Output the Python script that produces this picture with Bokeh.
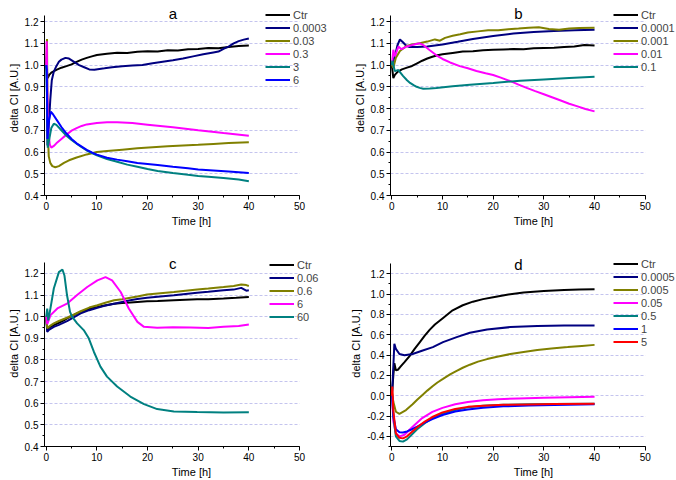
from bokeh.plotting import figure
from bokeh.layouts import column, row
from bokeh.models import (Range1d, SingleIntervalTicker, NumeralTickFormatter, Legend, LegendItem,
                          BoxAnnotation, Label)
from bokeh.embed import file_html
from bokeh.resources import INLINE

FONT = "Liberation Sans"
BLACK = "#000000"
NAVY = "#000080"
OLIVE = "#808000"
MAGENTA = "#FF00FF"
TEAL = "#008080"
BLUE = "#0000FF"
RED = "#FF0000"

# ---------------- panel a ----------------
a_labels = ["Ctr", "0.0003", "0.03", "0.3", "3", "6"]
a_ctr_t = [0, 0.3, 0.6, 1, 2, 3, 4, 5, 6, 7, 8, 9, 10, 12, 14, 16, 18, 20, 22, 24, 26, 28, 30, 32, 34, 36, 38, 40]
a_ctr_v = [1.0, 0.94, 0.955, 0.965, 0.978, 0.988, 0.995, 1.003, 1.015, 1.025, 1.033, 1.04, 1.046, 1.052,
           1.057, 1.055, 1.061, 1.064, 1.062, 1.068, 1.067, 1.073, 1.074, 1.078, 1.077, 1.083, 1.088, 1.09]
a_c1_t = [0, 0.1, 0.25, 0.5, 0.8, 1.1, 1.5, 2, 2.5, 3, 3.8, 4.5, 5.5, 6.5, 7.5, 8.5, 9.5, 10.5, 11.5, 13, 15,
          17, 19, 21, 23, 25, 27, 29, 31, 33, 34, 35, 36, 37, 38, 39, 40]
a_c1_v = [1.0, 1.04, 0.63, 0.72, 0.84, 0.93, 0.97, 0.995, 1.015, 1.025, 1.033, 1.03, 1.015, 1.0, 0.99, 0.98,
          0.978, 0.982, 0.985, 0.99, 0.995, 0.998, 1.0, 1.008, 1.015, 1.022, 1.03, 1.04, 1.05, 1.058, 1.062,
          1.075, 1.085, 1.1, 1.11, 1.117, 1.122]
a_c2_t = [0, 0.15, 0.3, 0.5, 0.8, 1.2, 1.8, 2.5, 3.5, 4.5, 6, 8, 10, 12, 15, 18, 21, 24, 27, 30, 33, 36, 40]
a_c2_v = [1.0, 1.12, 0.7, 0.58, 0.55, 0.535, 0.53, 0.535, 0.55, 0.562, 0.575, 0.589, 0.6, 0.605, 0.611,
          0.617, 0.622, 0.626, 0.63, 0.633, 0.637, 0.641, 0.645]
a_c3_t = [0, 0.1, 0.2, 0.4, 0.7, 1.0, 1.5, 2, 3, 4, 5, 6, 7, 8, 10, 12, 14, 17, 20, 25, 30, 35, 40]
a_c3_v = [1.0, 1.11, 0.9, 0.7, 0.635, 0.62, 0.628, 0.64, 0.66, 0.68, 0.698, 0.71, 0.72, 0.727, 0.734,
          0.737, 0.737, 0.733, 0.726, 0.714, 0.70, 0.687, 0.675]
a_c4_t = [0, 0.15, 0.3, 0.6, 1.0, 1.5, 2, 3, 4, 5, 6, 7, 8, 9, 10, 12, 14, 16, 18, 20, 22, 25, 28, 30, 32,
          35, 38, 40]
a_c4_v = [1.0, 0.85, 0.62, 0.66, 0.71, 0.73, 0.725, 0.7, 0.675, 0.655, 0.638, 0.622, 0.607, 0.595, 0.585,
          0.568, 0.555, 0.542, 0.532, 0.522, 0.513, 0.503, 0.495, 0.49, 0.486, 0.48, 0.474, 0.466]
a_c5_t = [0, 0.1, 0.25, 0.5, 0.9, 1.3, 2, 3, 4, 5, 6, 7, 8, 9, 10, 12, 14, 16, 18, 20, 22, 25, 28, 30, 33,
          36, 40]
a_c5_v = [1.0, 0.98, 0.66, 0.74, 0.785, 0.775, 0.75, 0.715, 0.685, 0.66, 0.64, 0.625, 0.61, 0.598, 0.588,
          0.574, 0.565, 0.558, 0.55, 0.545, 0.54, 0.532, 0.525, 0.52, 0.515, 0.51, 0.503]

# ---------------- panel b ----------------
b_labels = ["Ctr", "0.0001", "0.001", "0.01", "0.1"]
b_ctr_t = [0, 0.3, 0.6, 1.2, 2, 3, 4, 5, 6, 7, 8, 9, 10, 12, 14, 16, 18, 20, 22, 24, 26, 28, 30, 32, 34, 36, 38, 40]
b_ctr_v = [1.0, 0.94, 0.955, 0.97, 0.98, 0.988, 0.996, 1.008, 1.02, 1.03, 1.038, 1.045, 1.05, 1.056, 1.062,
           1.064, 1.068, 1.07, 1.072, 1.074, 1.073, 1.077, 1.079, 1.08, 1.083, 1.085, 1.092, 1.09]
b_c1_t = [0, 0.3, 0.7, 1.1, 1.6, 2.2, 2.8, 3.5, 5, 7, 10, 13, 16, 20, 24, 28, 32, 36, 40]
b_c1_v = [1.0, 1.02, 1.05, 1.09, 1.118, 1.105, 1.09, 1.083, 1.083, 1.085, 1.095, 1.107, 1.12, 1.134, 1.145,
          1.152, 1.157, 1.16, 1.162]
b_c2_t = [0, 0.3, 0.8, 1.6, 2.9, 4, 5.5, 7, 8.5, 9.5, 10.5, 12, 13.5, 15, 17, 19, 21, 23, 25, 27, 29, 31,
          33, 35, 37, 40]
b_c2_v = [1.0, 0.988, 1.034, 1.065, 1.088, 1.095, 1.1, 1.108, 1.118, 1.112, 1.125, 1.135, 1.142, 1.15,
          1.155, 1.16, 1.16, 1.165, 1.168, 1.172, 1.174, 1.166, 1.162, 1.168, 1.17, 1.172]
b_c3_t = [0, 0.3, 0.6, 1.3, 1.9, 2.9, 4.2, 5.5, 6.2, 7.5, 8.8, 10, 11.5, 13.4, 15, 16.7, 18.5, 20, 21.5,
          23.3, 25, 26.6, 28.3, 30, 31.6, 33.2, 35, 36.5, 38.2, 40]
b_c3_v = [1.0, 1.07, 1.04, 1.085, 1.073, 1.085, 1.093, 1.1, 1.092, 1.068, 1.045, 1.028, 1.012, 0.995,
          0.985, 0.973, 0.962, 0.954, 0.942, 0.927, 0.91, 0.895, 0.88, 0.866, 0.852, 0.838, 0.822, 0.811,
          0.798, 0.787]
b_c4_t = [0, 0.1, 0.6, 1.3, 2.2, 3, 3.6, 4.3, 4.9, 5.5, 6.2, 7.5, 8.8, 12, 15.4, 20, 25.3, 30, 35, 40]
b_c4_v = [1.0, 1.02, 0.972, 0.977, 0.95, 0.93, 0.918, 0.908, 0.9, 0.895, 0.891, 0.892, 0.895, 0.903, 0.91,
          0.918, 0.928, 0.934, 0.94, 0.946]

# ---------------- panel c ----------------
c_labels = ["Ctr", "0.06", "0.6", "6", "60"]
c_ctr_t = [0, 0.2, 0.6, 1.5, 2.5, 3.5, 4.1, 5, 6, 6.8, 8, 9, 10.1, 11.5, 13.4, 15, 16.6, 18, 19.9, 22,
           25.2, 27.5, 29.8, 32, 35, 37.5, 40]
c_ctr_v = [1.0, 0.938, 0.95, 0.961, 0.972, 0.983, 0.992, 1.003, 1.014, 1.022, 1.032, 1.04, 1.045, 1.052,
           1.06, 1.063, 1.065, 1.068, 1.071, 1.072, 1.076, 1.078, 1.08, 1.081, 1.084, 1.087, 1.091]
c_c1_t = [0, 0.2, 0.6, 1.5, 2.5, 4.1, 5.5, 6.8, 8.5, 10.1, 11.5, 13.4, 15, 16.6, 18, 19.9, 22, 25.2, 27.5,
          29.8, 32, 35, 37, 38.5, 39.5, 40]
c_c1_v = [1.0, 0.93, 0.94, 0.953, 0.962, 0.979, 0.998, 1.015, 1.03, 1.041, 1.05, 1.06, 1.068, 1.076,
          1.082, 1.087, 1.092, 1.099, 1.105, 1.111, 1.115, 1.122, 1.125, 1.133, 1.12, 1.122]
c_c2_t = [0, 0.2, 0.6, 1.5, 2.5, 4.1, 5.5, 6.8, 8.5, 10.1, 11.5, 13.4, 15, 16.6, 18, 19.9, 22, 25.2, 27.5,
          29.8, 32, 35, 37, 38.5, 39.5, 40]
c_c2_v = [1.0, 0.946, 0.955, 0.969, 0.98, 0.995, 1.01, 1.025, 1.042, 1.053, 1.063, 1.076, 1.08, 1.087,
          1.093, 1.102, 1.107, 1.114, 1.12, 1.126, 1.13, 1.137, 1.142, 1.149, 1.146, 1.142]
c_c3_t = [0, 0.2, 0.85, 2.2, 4.1, 6.1, 8.1, 10.1, 11.7, 13, 14.7, 16.3, 18, 19.3, 21.9, 25, 28.5, 32, 35,
          38, 40]
c_c3_v = [1.0, 0.965, 1.007, 1.038, 1.06, 1.1, 1.137, 1.168, 1.183, 1.168, 1.114, 1.038, 0.976, 0.953,
          0.949, 0.951, 0.95, 0.948, 0.953, 0.957, 0.964]
c_c4_t = [0, 0.2, 0.4, 0.7, 1.5, 2.5, 3.2, 3.6, 4.1, 4.7, 5.1, 6.1, 7.4, 8.4, 9.4, 10.7, 12, 14, 16.6,
          19.3, 21.9, 25.2, 29.8, 35, 40]
c_c4_v = [1.0, 1.037, 0.983, 1.02, 1.13, 1.206, 1.218, 1.19, 1.1, 1.022, 1.0, 0.969, 0.938, 0.9, 0.838,
          0.769, 0.723, 0.677, 0.631, 0.596, 0.573, 0.562, 0.559, 0.557, 0.558]

# ---------------- panel d ----------------
d_labels = ["Ctr", "0.0005", "0.005", "0.05", "0.5", "1", "5"]
d_ctr_t = [0, 0.3, 0.5, 0.8, 1.2, 1.8, 2.5, 3.5, 4.5, 5.5, 6.5, 7.5, 8.5, 10, 12, 14, 16, 18, 20, 23, 26,
           30, 34, 37, 40]
d_ctr_v = [0.0, 0.2, 0.32, 0.25, 0.255, 0.29, 0.33, 0.39, 0.46, 0.525, 0.59, 0.65, 0.7, 0.76, 0.84, 0.89,
           0.925, 0.95, 0.968, 0.995, 1.015, 1.03, 1.04, 1.045, 1.048]
d_c1_t = [0, 0.1, 0.5, 0.8, 1.5, 2.5, 4.1, 6.1, 8.1, 10.1, 12.8, 15.4, 18.8, 23.4, 28.7, 34, 40]
d_c1_v = [0.0, 0.07, 0.51, 0.46, 0.41, 0.397, 0.41, 0.445, 0.478, 0.527, 0.576, 0.619, 0.652, 0.675,
          0.686, 0.69, 0.69]
d_c2_t = [0, 0.3, 0.8, 1.5, 2.8, 4.1, 5, 6.1, 7, 8.1, 9, 10.1, 11.5, 12.8, 14, 15.4, 17, 18.8, 21, 23.4,
          26, 28.7, 31.5, 34.7, 37.5, 40]
d_c2_v = [0.05, -0.06, -0.158, -0.178, -0.142, -0.085, -0.04, 0.01, 0.05, 0.095, 0.13, 0.165, 0.21, 0.245,
          0.275, 0.305, 0.335, 0.36, 0.385, 0.41, 0.43, 0.45, 0.465, 0.478, 0.49, 0.5]
d_c3_t = [0, 0.3, 0.8, 1.5, 2.5, 4, 6, 8, 10, 12.5, 15, 18, 21, 25, 30, 35, 40]
d_c3_v = [0.05, -0.25, -0.37, -0.4, -0.385, -0.31, -0.22, -0.16, -0.12, -0.085, -0.062, -0.045, -0.035,
          -0.027, -0.02, -0.015, -0.01]
d_c4_t = [0, 0.3, 0.8, 1.5, 2.2, 3, 4, 5, 6.5, 8, 10, 12.5, 15, 18, 22, 27, 32, 40]
d_c4_v = [0.08, -0.2, -0.4, -0.445, -0.452, -0.43, -0.38, -0.33, -0.27, -0.22, -0.175, -0.14, -0.115, -0.1,
          -0.09, -0.085, -0.082, -0.08]
d_c5_t = [0, 0.3, 0.8, 1.5, 2.2, 3, 4, 5, 6.5, 8, 10, 12.5, 15, 18, 22, 27, 32, 40]
d_c5_v = [0.05, -0.2, -0.33, -0.36, -0.362, -0.352, -0.33, -0.305, -0.265, -0.23, -0.19, -0.155, -0.135,
          -0.118, -0.105, -0.097, -0.092, -0.085]
d_c6_t = [0, 0.1, 0.3, 0.8, 1.5, 2.2, 3, 4, 5, 6.5, 8, 10, 12.5, 15, 18, 22, 27, 32, 40]
d_c6_v = [0.0, 0.09, -0.15, -0.37, -0.415, -0.42, -0.4, -0.355, -0.31, -0.255, -0.21, -0.165, -0.13, -0.11,
          -0.098, -0.09, -0.086, -0.083, -0.08]

X_AXIS_END = 50


def make_panel(title, series, labels, colors, xr, yr, ybounds, yint, legend_xy, title_y, bl, bb):
    p = figure(width=338, height=240, output_backend="svg", toolbar_location=None, title=None,
               x_range=Range1d(*xr), y_range=Range1d(*yr),
               min_border_left=bl, min_border_right=0, min_border_top=0, min_border_bottom=bb,
               background_fill_color="white", border_fill_color="white")
    p.outline_line_color = None

    p.xaxis.ticker = SingleIntervalTicker(interval=10, num_minor_ticks=2)
    p.yaxis.ticker = SingleIntervalTicker(interval=yint, num_minor_ticks=2)
    p.yaxis.formatter = NumeralTickFormatter(format="0.0")
    p.xaxis.bounds = (xr[0], X_AXIS_END)
    p.yaxis.bounds = ybounds
    for ax in (p.xaxis[0], p.yaxis[0]):
        ax.major_tick_out = 4
        ax.major_tick_in = 0
        ax.minor_tick_out = 2
        ax.minor_tick_in = 0
        ax.axis_line_color = "black"
        ax.major_tick_line_color = "black"
        ax.minor_tick_line_color = "black"
        ax.major_label_text_font = FONT
        ax.major_label_text_font_size = "10px"
        ax.major_label_text_color = "black"
        ax.major_label_standoff = 2
        ax.axis_label_text_font = FONT
        ax.axis_label_text_font_size = "11px"
        ax.axis_label_text_font_style = "normal"
        ax.axis_label_text_color = "black"
        ax.axis_label_standoff = 2
    p.xaxis.axis_label = "Time [h]"
    p.yaxis.axis_label = "delta CI [A.U.]"
    p.xgrid.visible = False
    p.ygrid.grid_line_color = "#c4c4ee"
    p.ygrid.grid_line_dash = "3 2"
    p.ygrid.grid_line_width = 1

    # hide grid lines beyond the end of the x axis (legend area)
    p.add_layout(BoxAnnotation(left=X_AXIS_END, fill_color="white", fill_alpha=1.0,
                               line_alpha=0, level="underlay"))

    p.add_layout(Label(x=25, y=title_y, y_units="screen", text=title, text_align="center",
                       text_baseline="alphabetic", text_font=FONT, text_font_size="15px",
                       text_color="black"))

    items = []
    for (t, v), lab, col in zip(series, labels, colors):
        r = p.line(t, v, line_color=col, line_width=2)
        items.append(LegendItem(label=lab, renderers=[r]))
    leg = Legend(items=items, location=legend_xy, glyph_width=25, glyph_height=13,
                 label_height=13, label_width=20, spacing=0, padding=0, margin=0,
                 label_standoff=3, label_text_font=FONT, label_text_font_size="11px",
                 background_fill_alpha=0, border_line_color=None)
    p.add_layout(leg)
    return p


pa = make_panel("a",
                [(a_ctr_t, a_ctr_v), (a_c1_t, a_c1_v), (a_c2_t, a_c2_v), (a_c3_t, a_c3_v),
                 (a_c4_t, a_c4_v), (a_c5_t, a_c5_v)],
                a_labels, [BLACK, NAVY, OLIVE, MAGENTA, TEAL, BLUE],
                (-0.34, 57.7), (0.4, 1.297), (0.4, 1.228), 0.1, (221, 109), 182, 44, 45)
pb = make_panel("b",
                [(b_ctr_t, b_ctr_v), (b_c1_t, b_c1_v), (b_c2_t, b_c2_v), (b_c3_t, b_c3_v),
                 (b_c4_t, b_c4_v)],
                b_labels, [BLACK, NAVY, OLIVE, MAGENTA, TEAL],
                (-0.26, 56.17), (0.4, 1.297), (0.4, 1.228), 0.1, (223, 122), 182, 52, 45)
pc = make_panel("c",
                [(c_ctr_t, c_ctr_v), (c_c1_t, c_c1_v), (c_c2_t, c_c2_v), (c_c3_t, c_c3_v),
                 (c_c4_t, c_c4_v)],
                c_labels, [BLACK, NAVY, OLIVE, MAGENTA, TEAL],
                (-0.34, 57.7), (0.4, 1.352), (0.4, 1.25), 0.1, (225, 123), 183, 44, 33)
pd_ = make_panel("d",
                 [(d_ctr_t, d_ctr_v), (d_c1_t, d_c1_v), (d_c2_t, d_c2_v), (d_c3_t, d_c3_v),
                  (d_c4_t, d_c4_v), (d_c5_t, d_c5_v), (d_c6_t, d_c6_v)],
                 d_labels, [BLACK, NAVY, OLIVE, MAGENTA, TEAL, BLUE, RED],
                 (-0.26, 56.17), (-0.5, 1.527), (-0.5, 1.3), 0.2, (223, 98), 182, 52, 33)

layout = column(row(pa, pb), row(pc, pd_))
open("out.html", "w").write(file_html(layout, INLINE))
